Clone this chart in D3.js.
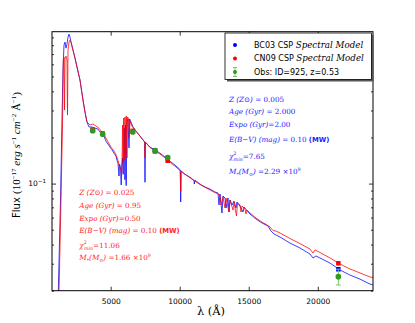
<!DOCTYPE html>
<html><head><meta charset="utf-8">
<script src="https://cdn.jsdelivr.net/npm/d3@7/dist/d3.min.js"></script>
<style>body{margin:0;background:#fff}svg{display:block}</style>
</head><body>
<svg id="c" width="415" height="323"></svg>
<script>
// ---- data (observed-frame wavelength in Angstrom, flux in 1e-17 erg/s/cm2/A) ----
const bc03Wave = [1206,1366,1474,1547,1619,1692,1764,1836,1909,1981,2054,2126,2271,2416,2561,2778,2995,3140,3285,3430,3647,3864,4082,4227,4372,4516,4661,4806,4951,5096,5240,5386,5458,5530,5603,5646,5711,5762,5806,5863,5907,5950,5994,6030,6074,6124,6168,6255,6327,6371,6472,6617,6834,7124,7457,7486,7515,7848,8210,8572,8935,9297,9659,10042,10071,10100,10383,10745,11035,11057,11108,11470,11832,12194,12556,12773,12846,12918,13063,13136,13281,13353,13498,13570,13643,13788,13933,14077,14150,14367,14584,14657,15091,15526,15961,16395,16612,16830,17264,17988,18713,19437,19654,19871,20161,20886,21610,22334,23059,23783,24000];
const bc03Flux = [0.0195,0.0781,0.260,0.551,0.801,0.838,0.766,0.813,0.903,0.945,0.903,0.838,0.743,0.659,0.576,0.474,0.351,0.293,0.252,0.234,0.234,0.230,0.227,0.217,0.210,0.204,0.189,0.181,0.173,0.166,0.158,0.151,0.142,0.136,0.112,0.134,0.128,0.098,0.130,0.147,0.115,0.178,0.230,0.106,0.241,0.097,0.252,0.264,0.171,0.264,0.252,0.234,0.220,0.204,0.187,0.102,0.186,0.173,0.166,0.158,0.149,0.140,0.132,0.123,0.0758,0.121,0.115,0.110,0.105,0.0993,0.105,0.0993,0.0950,0.0921,0.0881,0.0868,0.0725,0.0855,0.0643,0.0830,0.0805,0.0693,0.0805,0.0652,0.0781,0.0725,0.0769,0.0693,0.0758,0.0714,0.0652,0.0703,0.0633,0.0587,0.0553,0.0529,0.0490,0.0469,0.0448,0.0409,0.0380,0.0347,0.0327,0.0337,0.0327,0.0303,0.0273,0.0253,0.0238,0.0221,0.0218];
const cn09Wave = [1257,1402,1510,1568,1619,1655,1692,1764,1836,1873,1909,1981,2054,2126,2271,2416,2561,2778,2995,3140,3285,3502,3720,3937,4154,4372,4589,4806,5023,5240,5386,5530,5603,5675,5748,5784,5820,5863,5900,5943,5987,6037,6081,6131,6182,6226,6291,6342,6400,6545,6762,7124,7465,7486,7508,7848,8210,8572,8935,9152,9297,9659,10042,10071,10100,10745,11470,12194,12556,12918,12991,13136,13281,13353,13570,13643,13860,13933,14113,14186,14367,14440,14512,14729,14802,14874,15091,15526,15961,16323,16540,16757,16974,17264,17988,18713,19437,19654,19799,20161,20886,21610,22334,23059,23783,24000];
const cn09Flux = [0.0195,0.0781,0.241,0.640,0.669,0.302,0.659,0.679,0.640,0.280,0.743,0.838,0.864,0.838,0.743,0.659,0.576,0.474,0.351,0.293,0.252,0.241,0.245,0.237,0.230,0.217,0.204,0.187,0.173,0.163,0.154,0.142,0.132,0.126,0.126,0.109,0.134,0.241,0.138,0.268,0.142,0.272,0.166,0.276,0.147,0.272,0.264,0.198,0.256,0.237,0.224,0.204,0.187,0.147,0.187,0.172,0.163,0.156,0.147,0.142,0.138,0.130,0.121,0.0881,0.120,0.109,0.0986,0.0908,0.0874,0.0842,0.0725,0.0817,0.0693,0.0805,0.0652,0.0781,0.0672,0.0758,0.0614,0.0747,0.0725,0.0652,0.0714,0.0682,0.0633,0.0672,0.0643,0.0596,0.0561,0.0537,0.0521,0.0494,0.0490,0.0476,0.0438,0.0406,0.0374,0.0352,0.0369,0.0355,0.0327,0.0299,0.0277,0.0261,0.0246,0.0243];
const obsWave = [3700,4420,6600,8210,9130,21490];
const obsFlux = [0.221,0.210,0.217,0.164,0.148,0.0247];
const obsErr  = [0.004,0.004,0.004,0.003,0.003,0.0029];
const bc03Model = [0.223,0.211,0.219,0.165,0.146,0.0276];
const cn09Model = [0.225,0.212,0.221,0.162,0.141,0.0302];
const xTicks = [5000,10000,15000,20000];
const yMajor = [0.1];
const yMinor = [0.02,0.03,0.04,0.05,0.06,0.07,0.08,0.09,0.2,0.3,0.4,0.5,0.6,0.7,0.8,0.9];
const legendLabels = [["BC03 CSP ","Spectral Model"],["CN09 CSP ","Spectral Model"],["Obs: ID=925, z=0.53",""]];
const bc03Params = ["0.005","2.000","2.00","0.10","7.65","2.29"];
const cn09Params = ["0.025","0.95","0.50","0.10","11.06","1.66"];

// ---- layout ----
const L=52, R=373, T=31.7, B=290.7;
const svg = d3.select("#c");
const x = d3.scaleLinear().domain([750,24000]).range([L,R]);
const y = d3.scaleLog().domain([0.02,0.98]).range([B,T]);
const BLUE="#0000ff", RED="#ff0000", GREEN="#2e9a1e", GERR="#78c46a";

svg.append("rect").attr("width",415).attr("height",323).attr("fill","#fff");
svg.append("defs").append("clipPath").attr("id","clip").append("rect")
  .attr("x",L).attr("y",T).attr("width",R-L).attr("height",B-T);

const plot = svg.append("g").attr("clip-path","url(#clip)");
const line = d3.line().x(d=>x(d[0])).y(d=>y(d[1]));
plot.append("path").datum(d3.zip(bc03Wave,bc03Flux)).attr("d",line)
  .attr("fill","none").attr("stroke",BLUE).attr("stroke-width",0.9).attr("stroke-opacity",0.85);
plot.append("path").datum(d3.zip(cn09Wave,cn09Flux)).attr("d",line)
  .attr("fill","none").attr("stroke",RED).attr("stroke-width",0.9).attr("stroke-opacity",0.85);

// model photometry squares
const sq=4.5;
plot.selectAll(".bm").data(d3.zip(obsWave,bc03Model)).join("rect")
  .attr("x",d=>x(d[0])-sq/2).attr("y",d=>y(d[1])-sq/2).attr("width",sq).attr("height",sq).attr("fill",BLUE);
plot.selectAll(".rm").data(d3.zip(obsWave,cn09Model)).join("rect")
  .attr("x",d=>x(d[0])-sq/2).attr("y",d=>y(d[1])-sq/2).attr("width",sq).attr("height",sq).attr("fill",RED);
// observations with error bars
const obs = d3.zip(obsWave,obsFlux,obsErr);
plot.selectAll(".eb").data(obs).join("path")
  .attr("d",d=>{const xx=x(d[0]),y1=y(d[1]-d[2]),y2=y(d[1]+d[2]);
    return `M${xx},${y1}V${y2}M${xx-2.5},${y1}H${xx+2.5}M${xx-2.5},${y2}H${xx+2.5}`;})
  .attr("stroke",GERR).attr("stroke-width",1).attr("fill","none");
plot.selectAll(".ob").data(obs).join("circle")
  .attr("cx",d=>x(d[0])).attr("cy",d=>y(d[1])).attr("r",2.8).attr("fill",GREEN);

// ---- axes ----
const tickFont = "DejaVu Sans, sans-serif";
const gx = svg.append("g").attr("transform",`translate(0,${B})`)
  .call(d3.axisBottom(x).tickValues(xTicks).tickSize(-4).tickSizeOuter(0).tickPadding(8).tickFormat(d3.format("d")));
svg.append("g").attr("transform",`translate(0,${T})`)
  .call(d3.axisTop(x).tickValues(xTicks).tickSize(-4).tickSizeOuter(0).tickFormat(""));
svg.append("g").attr("transform",`translate(${L},0)`)
  .call(d3.axisLeft(y).tickValues(yMajor).tickSize(-4).tickSizeOuter(0).tickFormat(""));
svg.append("g").attr("transform",`translate(${L},0)`)
  .call(d3.axisLeft(y).tickValues(yMinor).tickSize(-2).tickSizeOuter(0).tickFormat(""));
svg.append("g").attr("transform",`translate(${R},0)`)
  .call(d3.axisRight(y).tickValues(yMajor).tickSize(-4).tickSizeOuter(0).tickFormat(""));
svg.append("g").attr("transform",`translate(${R},0)`)
  .call(d3.axisRight(y).tickValues(yMinor).tickSize(-2).tickSizeOuter(0).tickFormat(""));
svg.selectAll(".domain").remove();
svg.selectAll(".tick line").attr("stroke","#000").attr("stroke-width",0.8);
gx.selectAll("text").attr("font-family",tickFont).attr("font-size",7.5).attr("fill","#000");
// 10^-1 label
yMajor.forEach(v=>{
  const t = svg.append("text").attr("x",L-6).attr("y",y(v)+2.6).attr("text-anchor","end")
    .attr("font-family",tickFont).attr("font-size",7.5);
  t.append("tspan").text("10");
  t.append("tspan").attr("dy",-3).attr("font-size",5.5).text("\u22121");
});
svg.append("rect").attr("x",L).attr("y",T).attr("width",R-L).attr("height",B-T)
  .attr("fill","none").attr("stroke","#000").attr("stroke-width",1);

// axis titles
svg.append("text").attr("x",211).attr("y",315).attr("text-anchor","middle")
  .attr("font-family","DejaVu Serif, serif").attr("font-size",11.5).text("\u03bb (\u00c5)");
const yl = svg.append("text").attr("transform","translate(20,155) rotate(-90)").attr("text-anchor","middle")
  .attr("font-family","DejaVu Sans, sans-serif").attr("font-size",10);
const MF = "Liberation Serif, serif";
yl.append("tspan").text("Flux ");
yl.append("tspan").attr("font-family",MF).attr("font-size",11).text("(10");
yl.append("tspan").attr("dy",-4).attr("font-size",7).attr("font-family",MF).text("\u221217");
const mi = (s)=>yl.append("tspan").attr("font-family",MF).attr("font-size",11).attr("font-style","italic").text(s);
mi(" erg s").attr("dy",4);
yl.append("tspan").attr("dy",-4).attr("font-size",7).attr("font-family",MF).text("\u22121");
mi(" cm").attr("dy",4);
yl.append("tspan").attr("dy",-4).attr("font-size",7).attr("font-family",MF).text("\u22122");
yl.append("tspan").attr("dy",4).attr("font-family",MF).attr("font-size",11).text(" \u00c5");
yl.append("tspan").attr("dy",-4).attr("font-size",7).attr("font-family",MF).text("\u22121");
yl.append("tspan").attr("dy",4).attr("font-family",MF).attr("font-size",11).text(")");

// ---- legend ----
const lg = svg.append("g");
lg.append("rect").attr("x",227).attr("y",35).attr("width",146.5).attr("height",46.5).attr("fill","#555");
lg.append("rect").attr("x",225).attr("y",33).attr("width",146.5).attr("height",46.5).attr("fill","#fff").attr("stroke","#000").attr("stroke-width",0.8);
const rowsY=[45,58.5,72];
lg.append("circle").attr("cx",235).attr("cy",rowsY[0]).attr("r",2).attr("fill",BLUE);
lg.append("circle").attr("cx",235).attr("cy",rowsY[1]).attr("r",2).attr("fill",RED);
lg.append("path").attr("d",`M235,${rowsY[2]-4.5}V${rowsY[2]+4.5}M233,${rowsY[2]-4.5}H237M233,${rowsY[2]+4.5}H237`).attr("stroke",GERR).attr("stroke-width",1);
lg.append("circle").attr("cx",235).attr("cy",rowsY[2]).attr("r",2).attr("fill",GREEN);
legendLabels.forEach((l,i)=>{
  const t = lg.append("text").attr("x",254).attr("y",rowsY[i]+2.9).attr("font-family",tickFont).attr("font-size",8);
  t.append("tspan").text(l[0]);
  if(l[1]) t.append("tspan").attr("font-family","DejaVu Serif, serif").attr("font-style","italic").attr("font-size",8.7).text(l[1]);
});

// ---- parameter annotations ----
function annot(x0, ys, p, col){
  const g = svg.append("g").attr("fill",col).attr("font-family","DejaVu Serif, serif").attr("font-size",7.2);
  const it = (t,s)=>t.append("tspan").attr("font-style","italic").text(s);
  const rm = (t,s)=>t.append("tspan").text(s);
  let t;
  t = g.append("text").attr("x",x0).attr("y",ys[0]); it(t,"Z (Z"); rm(t,"\u2299"); it(t,")"); rm(t," = "+p[0]);
  t = g.append("text").attr("x",x0).attr("y",ys[1]); it(t,"Age (Gyr)"); rm(t," = "+p[1]);
  t = g.append("text").attr("x",x0).attr("y",ys[2]); it(t,"Expo (Gyr)"); rm(t,"="+p[2]);
  t = g.append("text").attr("x",x0).attr("y",ys[3]); it(t,"E(B\u2212V) (mag)"); rm(t," = "+p[3]+" ");
  t.append("tspan").attr("font-family","DejaVu Sans, sans-serif").attr("font-weight","bold").attr("font-size",6.8).text("(MW)");
  t = g.append("text").attr("x",x0).attr("y",ys[4]); it(t,"\u03c7");
  t.append("tspan").attr("font-size",4.8).attr("dy",-3.5).text("2");
  t.append("tspan").attr("font-size",4.8).attr("font-style","italic").attr("dx",-2.8).attr("dy",5.5).text("min");
  t.append("tspan").attr("dy",-2).text("="+p[4]);
  t = g.append("text").attr("x",x0).attr("y",ys[5]); it(t,"M");
  t.append("tspan").attr("font-size",4.8).attr("dy",1.5).text("*");
  t.append("tspan").attr("dy",-1.5).attr("font-style","italic").text("(M");
  t.append("tspan").attr("font-size",4.8).attr("dy",1.5).text("\u2299");
  t.append("tspan").attr("dy",-1.5).attr("font-style","italic").text(")");
  rm(t," ="+p[5]+" \u00d710");
  t.append("tspan").attr("font-size",4.8).attr("dy",-3).text("9");
}
annot(229, [101.7,113.7,127,142,158.7,174.4], bc03Params, "#1a1aff");
annot(79.3, [195.4,207.7,221,232.7,247.7,260], cn09Params, "#ff1a1a");
</script>
</body></html>
